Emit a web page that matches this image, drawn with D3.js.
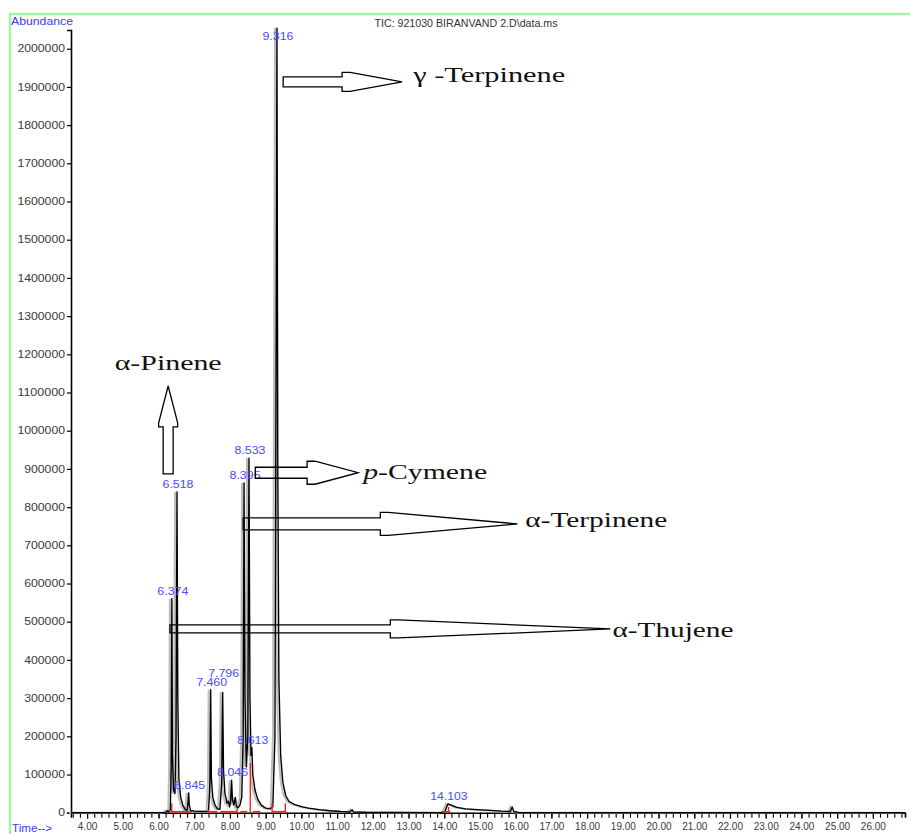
<!DOCTYPE html>
<html>
<head>
<meta charset="utf-8">
<script src="https://cdn.jsdelivr.net/npm/d3@7/dist/d3.min.js"></script>
<style>
  body { margin: 0; background: #fff; }
  svg { display: block; font-family: "Liberation Sans", Arial, sans-serif; }
</style>
</head>
<body>
<div id="chart"></div>
<script>
// TIC trace, [retention time (min), abundance]
var tic = [
  [3.55, 0], [6.20, 0], [6.24, 5000], [6.28, 2000], [6.33, 8000], [6.355, 120000],
  [6.374, 560000], [6.39, 150000], [6.42, 60000], [6.46, 50000], [6.49, 200000],
  [6.518, 840000], [6.54, 300000], [6.57, 90000], [6.62, 40000], [6.68, 20000],
  [6.75, 8000], [6.80, 6000], [6.83, 30000], [6.845, 52000], [6.86, 20000],
  [6.90, 6000], [7.00, 4000], [7.20, 3000], [7.40, 4000], [7.44, 80000],
  [7.460, 322000], [7.48, 90000], [7.52, 40000], [7.58, 20000], [7.65, 10000],
  [7.72, 9000], [7.77, 80000], [7.796, 315000], [7.82, 110000], [7.86, 50000],
  [7.92, 25000], [7.96, 30000], [7.99, 15000], [8.02, 30000], [8.046, 85000],
  [8.07, 35000], [8.11, 20000], [8.15, 40000], [8.18, 18000], [8.22, 12000],
  [8.28, 20000], [8.33, 40000], [8.37, 200000], [8.395, 863000], [8.42, 300000],
  [8.46, 120000], [8.50, 200000], [8.533, 928000], [8.56, 300000], [8.59, 150000],
  [8.613, 170000], [8.64, 100000], [8.70, 60000], [8.78, 35000], [8.88, 20000],
  [9.00, 12000], [9.12, 10000], [9.20, 15000], [9.26, 200000], [9.30, 1400000],
  [9.316, 2054000], [9.34, 900000], [9.37, 350000], [9.42, 150000], [9.48, 80000],
  [9.56, 45000], [9.65, 30000], [9.80, 22000], [10.00, 16000], [10.20, 12000],
  [10.50, 8000], [10.80, 5000], [11.10, 3000], [11.35, 2000], [11.42, 8000],
  [11.46, 2000], [11.80, 1000], [12.50, 500], [13.90, 0], [14.02, 3000],
  [14.08, 18000], [14.103, 23000], [14.20, 20000], [14.35, 14000], [14.60, 10000],
  [14.90, 8000], [15.30, 6000], [15.60, 4000], [15.85, 3000], [15.90, 15000],
  [15.95, 3000], [16.10, 0], [26.90, 0]
];

// labelled peaks
var peakTimes   = [6.374, 6.518, 6.845, 7.460, 7.796, 8.046, 8.395, 8.533, 8.613, 9.316, 14.103];
var peakHeights = [560000, 840000, 52000, 322000, 315000, 85000, 863000, 928000, 170000, 2054000, 23000];
var peakLabels  = ["6.374", "6.518", "6.845", "7.460", "7.796", "8.046", "8.395", "8.533", "8.613", "9.316", "14.103"];

// integration baselines (red)
var baseSegments = [[6.32, 6.94], [7.39, 7.64], [7.73, 8.20], [8.29, 8.48], [8.65, 8.85], [9.18, 9.55], [13.94, 14.17]];
var baseMarks = [[6.37, 25000], [7.39, 8000], [8.20, 10000], [8.57, 130000], [9.18, 25000], [9.55, 25000], [14.12, 15000]];

// axis ticks
var yTickValues = d3.range(0, 2000001, 100000);
var xTickValues = d3.range(4, 27, 1);
var xMinorTicks = d3.range(3.6, 26.9, 0.2);

// compound annotations (arrows)
var compounds   = ["γ -Terpinene", "p-Cymene", "α-Terpinene", "α-Thujene", "α-Pinene"];
var arrowStart  = [[9.49, 1913000], [8.71, 890000], [8.37, 756000], [6.32, 481000], [6.27, 887000]];
var arrowHead   = [[11.14, 1913000], [10.16, 890000], [12.21, 756000], [12.49, 481000], [6.27, 1010000]];
var arrowTip    = [[12.82, 1913000], [11.59, 890000], [16.05, 756000], [18.65, 481000], [6.27, 1117000]];
var labelAt     = [[13.13, 1913000], [11.73, 874000], [16.27, 748000], [18.71, 460000], [6.27, 1159000]];

var width = 910, height = 834;

var svg = d3.select('#chart')
  .append('svg')
    .attr('width', width)
    .attr('height', height);

var x = d3.scaleLinear().domain([3.55, 26.9]).range([71, 905]);
var y = d3.scaleLinear().domain([0, 2049000]).range([812.7, 30]);

// green frame
svg.append('rect')
  .attr('x', 10).attr('y', 14)
  .attr('width', 930).attr('height', 860)
  .attr('fill', 'none')
  .attr('stroke', '#a6f2a6')
  .attr('stroke-width', 2.5);

svg.append('text')
  .attr('x', 11).attr('y', 24.5)
  .attr('font-size', 10)
  .attr('fill', '#3a3aff')
  .attr('textLength', 62).attr('lengthAdjust', 'spacingAndGlyphs')
  .text('Abundance');

svg.append('text')
  .attr('x', 466).attr('y', 26.5)
  .attr('text-anchor', 'middle')
  .attr('font-size', 10)
  .attr('fill', '#333')
  .attr('textLength', 183).attr('lengthAdjust', 'spacingAndGlyphs')
  .text('TIC: 921030 BIRANVAND 2.D\\data.ms');

svg.append('text')
  .attr('x', 12).attr('y', 831.5)
  .attr('font-size', 10)
  .attr('fill', '#3a3aff')
  .attr('textLength', 40).attr('lengthAdjust', 'spacingAndGlyphs')
  .text('Time-->');

// Y axis
var yAxis = d3.axisLeft(y)
  .tickValues(yTickValues)
  .tickSize(4)
  .tickPadding(2)
  .tickFormat(function(d) { return d; });

var gy = svg.append('g')
  .attr('transform', 'translate(71,0)')
  .call(yAxis);
gy.select('.domain').attr('stroke', '#000').attr('stroke-width', 1.6);
gy.selectAll('.tick line').attr('stroke', '#000').attr('stroke-width', 1.2);
gy.selectAll('.tick text')
  .attr('font-family', '"Liberation Sans", Arial, sans-serif')
  .attr('font-size', 10)
  .attr('fill', '#3a3a3a')
  .attr('textLength', function(d) { return String(d).length * 6.8; })
  .attr('lengthAdjust', 'spacingAndGlyphs');

// X axis
var gxMinor = svg.append('g')
  .attr('transform', 'translate(0,812.7)')
  .call(d3.axisBottom(x).tickValues(xMinorTicks).tickSize(5).tickFormat(''));
gxMinor.select('.domain').attr('stroke', '#000').attr('stroke-width', 1.6);
gxMinor.selectAll('.tick line').attr('stroke', '#000').attr('stroke-width', 1.1);

var gx = svg.append('g')
  .attr('transform', 'translate(0,812.7)')
  .call(d3.axisBottom(x).tickValues(xTickValues).tickSize(6).tickPadding(4)
    .tickFormat(d3.format('.2f')));
gx.select('.domain').remove();
gx.selectAll('.tick line').attr('stroke', '#000').attr('stroke-width', 1.2);
gx.selectAll('.tick text')
  .attr('font-family', '"Liberation Sans", Arial, sans-serif')
  .attr('font-size', 10)
  .attr('fill', '#3a3a3a');

// trace (gray shadow + black line)
var line = d3.line()
  .x(function(d) { return x(d[0]); })
  .y(function(d) { return y(d[1]); });

svg.append('path')
  .attr('d', line(tic))
  .attr('transform', 'translate(-2,0)')
  .attr('fill', 'none')
  .attr('stroke', '#bdbdbd')
  .attr('stroke-width', 2);

svg.append('path')
  .attr('d', line(tic))
  .attr('fill', 'none')
  .attr('stroke', '#000')
  .attr('stroke-width', 1.4)
  .attr('stroke-linejoin', 'round');

// integration baselines
svg.selectAll('line.base')
  .data(baseSegments)
  .enter().append('line')
    .attr('class', 'base')
    .attr('x1', function(d) { return x(d[0]); })
    .attr('x2', function(d) { return x(d[1]); })
    .attr('y1', y(0) - 1).attr('y2', y(0) - 1)
    .attr('stroke', '#ff2020')
    .attr('stroke-width', 1.6);

svg.selectAll('line.mark')
  .data(baseMarks)
  .enter().append('line')
    .attr('class', 'mark')
    .attr('x1', function(d) { return x(d[0]); })
    .attr('x2', function(d) { return x(d[0]); })
    .attr('y1', y(0))
    .attr('y2', function(d) { return y(d[1]); })
    .attr('stroke', '#ff2020')
    .attr('stroke-width', 1.4);

// peak labels, nudged up when they collide
var placed = [];
peakTimes.forEach(function(t, i) {
  var cx = x(t) + 1;
  var w = peakLabels[i].length * 6.2;
  var base = Math.max(y(peakHeights[i]) - 4, 40);
  placed.forEach(function(p) {
    if (Math.abs(p.cx - cx) < (p.w + w) / 2 && Math.abs(p.base - base) < 9) {
      base = p.base - 9;
    }
  });
  placed.push({cx: cx, w: w, base: base, text: peakLabels[i]});
});

svg.selectAll('text.peak')
  .data(placed)
  .enter().append('text')
    .attr('class', 'peak')
    .attr('x', function(d) { return d.cx; })
    .attr('y', function(d) { return d.base; })
    .attr('text-anchor', 'middle')
    .attr('font-size', 10)
    .attr('fill', '#4b4bff')
    .attr('textLength', function(d) { return d.w; })
    .attr('lengthAdjust', 'spacingAndGlyphs')
    .text(function(d) { return d.text; });

// hollow block arrows
var shaftHalf = [5, 5.5, 6, 4, 5];
var headHalf  = [9.5, 11.5, 11.5, 9, 9.5];
var labelWidth = [152, 124, 142, 121, 107];

compounds.forEach(function(name, i) {
  var x0 = x(arrowStart[i][0]), y0 = y(arrowStart[i][1]);
  var xh = x(arrowHead[i][0]), yh = y(arrowHead[i][1]);
  var x1 = x(arrowTip[i][0]), y1 = y(arrowTip[i][1]);
  var s = shaftHalf[i], h = headHalf[i], pts;
  if (Math.abs(y1 - y0) > Math.abs(x1 - x0)) {
    // vertical (pointing up)
    pts = [[x0 - s, y0], [x0 - s, yh], [x0 - h, yh], [x0 - h, yh - 4], [x1, y1],
           [x0 + h, yh - 4], [x0 + h, yh], [x0 + s, yh], [x0 + s, y0]];
  } else {
    pts = [[x0, y0 - s], [xh, y0 - s], [xh, y0 - h], [xh + 8, y0 - h], [x1, y1],
           [xh + 8, y0 + h], [xh, y0 + h], [xh, y0 + s], [x0, y0 + s]];
  }
  svg.append('polygon')
    .attr('points', pts.map(function(p) { return p.join(','); }).join(' '))
    .attr('fill', 'none')
    .attr('stroke', '#000')
    .attr('stroke-width', 1.3);

  var vertical = Math.abs(y1 - y0) > Math.abs(x1 - x0);
  var t = svg.append('text')
    .attr('x', x(labelAt[i][0]))
    .attr('y', y(labelAt[i][1]))
    .attr('text-anchor', vertical ? 'middle' : 'start')
    .attr('font-family', '"Liberation Serif", "Times New Roman", serif')
    .attr('font-size', 22)
    .attr('fill', '#111')
    .attr('textLength', labelWidth[i])
    .attr('lengthAdjust', 'spacingAndGlyphs');
  if (name.indexOf('p-') === 0) {
    t.append('tspan').attr('font-style', 'italic').text('p');
    t.append('tspan').text(name.slice(1));
  } else {
    t.text(name);
  }
});
</script>
</body>
</html>
